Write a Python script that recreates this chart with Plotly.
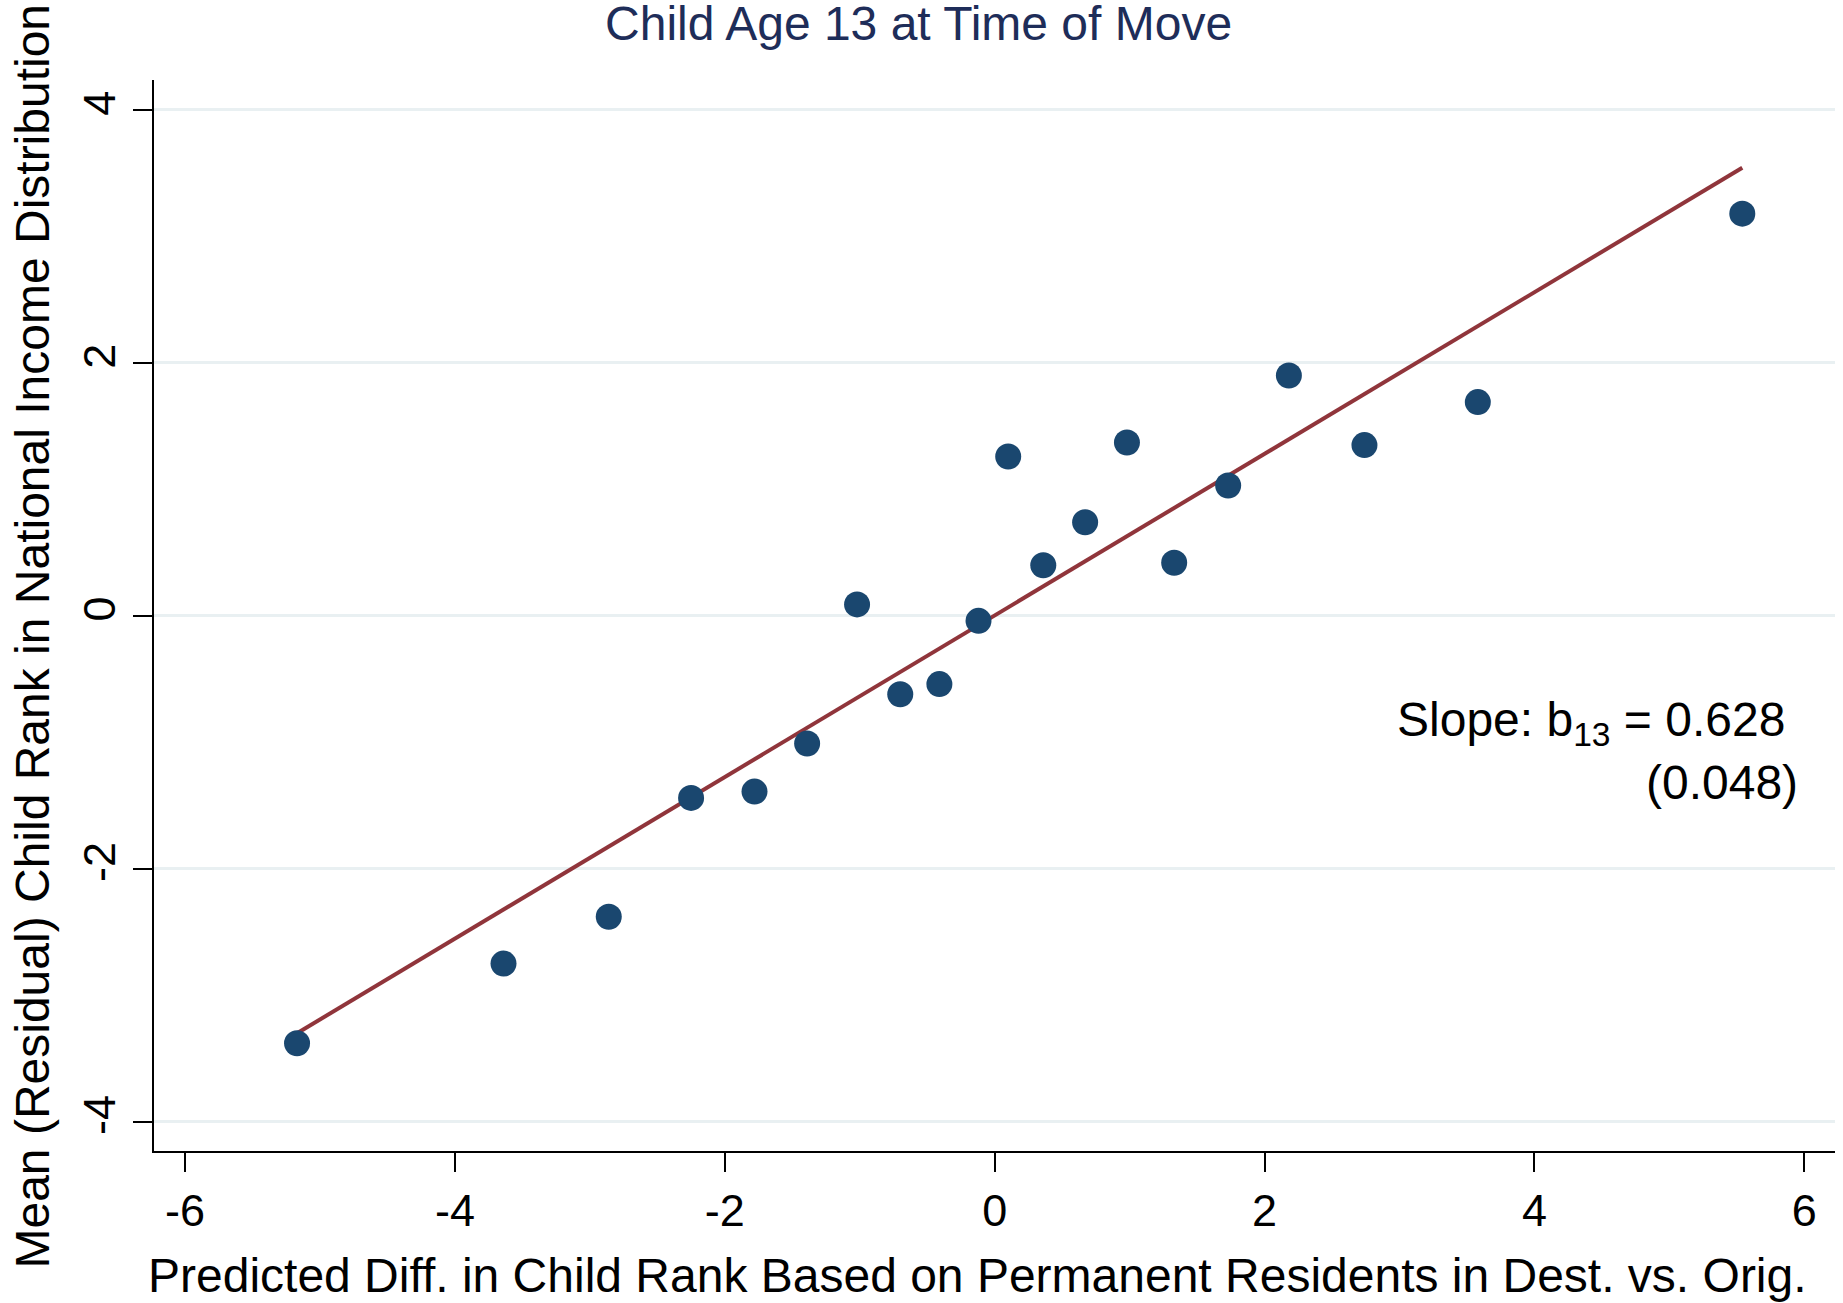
import plotly.graph_objects as go

# ---- data ----
x_vals = [-5.17, -3.64, -2.86, -2.25, -1.78, -1.39, -1.02, -0.70, -0.41, -0.12,
          0.10, 0.36, 0.67, 0.98, 1.33, 1.73, 2.18, 2.74, 3.58, 5.54]
y_vals = [-3.38, -2.75, -2.38, -1.44, -1.39, -1.01, 0.09, -0.62, -0.54, -0.04,
          1.26, 0.40, 0.74, 1.37, 0.42, 1.03, 1.90, 1.35, 1.69, 3.18]
fit_slope = 0.639
fit_intercept = 0.003
x_ticks = [-6, -4, -2, 0, 2, 4, 6]
y_ticks = [-4, -2, 0, 2, 4]

title_text = "Child Age 13 at Time of Move"
x_title = "Predicted Diff. in Child Rank Based on Permanent Residents in Dest. vs. Orig."
y_title = "Mean (Residual) Child Rank in National Income Distribution"
slope_text = "Slope: b<sub>13</sub> = 0.628"
se_text = "(0.048)"

FONT = "Liberation Sans, Arial, sans-serif"
W, H = 1843, 1303
L, R, T, B = 154, 1835, 80, 1151   # plot-area edges in pixels

fit_x = [min(x_vals), max(x_vals)]
fit_y = [fit_intercept + fit_slope * v for v in fit_x]

fig = go.Figure()
fig.add_trace(go.Scatter(x=fit_x, y=fit_y, mode="lines",
                         line=dict(color="#90353b", width=4),
                         showlegend=False, hoverinfo="skip"))
fig.add_trace(go.Scatter(x=x_vals, y=y_vals, mode="markers",
                         marker=dict(color="#1a476f", size=26, line=dict(width=0)),
                         showlegend=False))

def px2paper_x(px):
    return (px - L) / (R - L)

def px2paper_y(py):
    return (B - py) / (B - T)

fig.update_layout(
    width=W, height=H,
    margin=dict(l=L, r=W - R, t=T, b=H - B, pad=0),
    paper_bgcolor="white", plot_bgcolor="white",
    font=dict(family=FONT, color="black", size=45),
    title=dict(text=title_text, xref="container", x=918.6 / W, xanchor="center",
               yref="container", y=1 - 23 / H, yanchor="middle",
               font=dict(family=FONT, size=48, color="#1e2d59")),
    xaxis=dict(range=[-6.230, 6.227], tickvals=x_ticks, ticktext=[str(t) for t in x_ticks],
               showgrid=False, zeroline=False, showline=True, linecolor="black", linewidth=2,
               ticks="outside", ticklen=19, tickwidth=2, tickcolor="black",
               tickfont=dict(family=FONT, size=45, color="black")),
    yaxis=dict(range=[-4.232, 4.237], tickvals=y_ticks, ticktext=[str(t) for t in y_ticks],
               showgrid=True, gridcolor="#e9f0f2", gridwidth=3, zeroline=False,
               showline=True, linecolor="black", linewidth=2,
               ticks="outside", ticklen=19, tickwidth=2, tickcolor="black",
               tickangle=-90, tickfont=dict(family=FONT, size=45, color="black")),
    annotations=[
        dict(text=x_title, xref="paper", yref="paper",
             x=px2paper_x(977), y=px2paper_y(1275), xanchor="center", yanchor="middle",
             showarrow=False, font=dict(family=FONT, size=48, color="black")),
        dict(text=y_title, xref="paper", yref="paper", textangle=-90,
             x=px2paper_x(32.5), y=px2paper_y(636), xanchor="center", yanchor="middle",
             showarrow=False, font=dict(family=FONT, size=48, color="black")),
        dict(text=slope_text, xref="x", yref="y", x=5.872, y=-0.847,
             xanchor="right", yanchor="middle", showarrow=False,
             font=dict(family=FONT, size=48, color="black")),
        dict(text=se_text, xref="x", yref="y", x=5.964, y=-1.315,
             xanchor="right", yanchor="middle", showarrow=False,
             font=dict(family=FONT, size=48, color="black")),
    ],
)

fig.write_html("out.html", config={"displayModeBar": False},
               post_script="document.body.style.margin='0';")
